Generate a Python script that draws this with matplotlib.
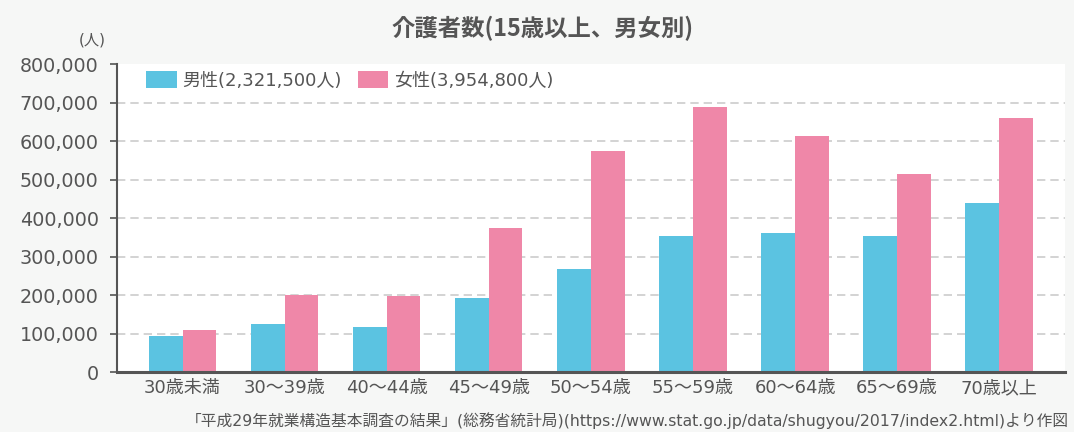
import matplotlib
matplotlib.use("Agg")
import matplotlib.pyplot as plt
from matplotlib.patches import Patch
import numpy as np

categories = ["30歳未満", "30～39歳", "40～44歳", "45～49歳", "50～54歳",
              "55～59歳", "60～64歳", "65～69歳", "70歳以上"]
male = [94000, 125000, 118000, 193000, 268000, 354000, 362000, 354000, 440000]
female = [110000, 200000, 198000, 375000, 575000, 689000, 614000, 515000, 661000]
series_labels = ["男性(2,321,500人)", "女性(3,954,800人)"]
yticks = [0, 100000, 200000, 300000, 400000, 500000, 600000, 700000, 800000]
title = "介護者数(15歳以上、男女別)"
unit = "(人)"
source = "「平成29年就業構造基本調査の結果」(総務省統計局)(https://www.stat.go.jp/data/shugyou/2017/index2.html)より作図"

FONTS = ["DejaVu Sans", "Noto Sans CJK JP"]
plt.rcParams["font.family"] = FONTS
TXT = "#555555"
BLUE = "#5bc3e1"
PINK = "#ef87a8"
BG = "#f6f7f6"

fig = plt.figure(figsize=(10.74, 4.32), dpi=100, facecolor=BG)
ax = fig.add_axes([116.7/1074, (432-372.3)/432, (1065-116.7)/1074, (372.3-64)/432])
ax.set_facecolor("white")

x = np.arange(len(categories))
w = 0.33
ax.bar(x - w/2, male, width=w, color=BLUE, zorder=3)
ax.bar(x + w/2, female, width=w, color=PINK, zorder=3)

ax.set_xlim(-0.645, 8.645)
ax.set_ylim(0, 800000)
ax.set_yticks(yticks)
ax.set_yticklabels([f"{v:,}" for v in yticks])
ax.set_xticks(x)
ax.set_xticklabels(categories)
ax.tick_params(axis="x", length=0, pad=5, labelsize=13, labelcolor=TXT)
ax.tick_params(axis="y", length=5, width=1.2, color="#555555", pad=8,
               labelsize=13.8, labelcolor=TXT)

for yv in yticks[1:-1]:
    ax.axhline(yv, color="#cccccc", lw=1.2, ls=(0, (5, 3)), zorder=1)

for s in ["top", "right"]:
    ax.spines[s].set_visible(False)
ax.spines["left"].set_color("#555555")
ax.spines["left"].set_linewidth(1.5)
ax.spines["bottom"].set_color("#555555")
ax.spines["bottom"].set_linewidth(2.2)
ax.spines["bottom"].set_zorder(4)

handles = [Patch(facecolor=BLUE, edgecolor="none"), Patch(facecolor=PINK, edgecolor="none")]
leg = fig.legend(handles, series_labels, loc="upper left",
                 bbox_to_anchor=(146/1074, 1 - 71/432), ncol=2, frameon=False,
                 fontsize=13, handlelength=1.7, handleheight=1.1,
                 handletextpad=0.3, columnspacing=0.9, borderpad=0, borderaxespad=0)
for t in leg.get_texts():
    t.set_color(TXT)

fig.text(543/1074, 1 - 28/432, title, ha="center", va="center",
         fontsize=16.8, fontweight="bold", color=TXT, family=["Noto Sans CJK JP"])
fig.text(106/1074, 1 - 40/432, unit, ha="right", va="center", fontsize=11, color=TXT)
fig.text(1069/1074, 1 - 421/432, source, ha="right", va="center", fontsize=11.3, color=TXT)

fig.savefig("out.png", dpi=100, facecolor=BG)
